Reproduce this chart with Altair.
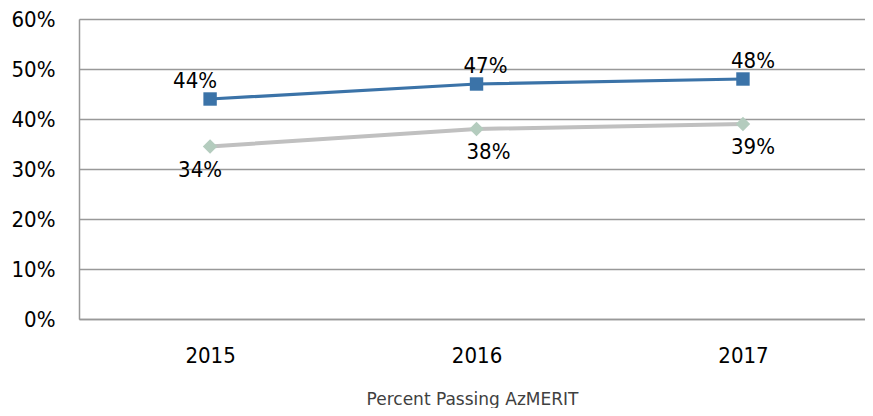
import altair as alt
import pandas as pd

years = [2015, 2016, 2017]
series_a = [44, 47, 48]
series_b = [34.5, 38, 39]
labels_a = ["44%", "47%", "48%"]
labels_b = ["34%", "38%", "39%"]

df = pd.DataFrame({
    "year": years * 2,
    "value": [v / 100 for v in series_a + series_b],
    "label": labels_a + labels_b,
    "series": ["A"] * 3 + ["B"] * 3,
})

FONT = "DejaVu Sans Condensed, sans-serif"
TFONT = "DejaVu Sans"
x = alt.X("year:Q", scale=alt.Scale(domain=[2014.508, 2017.458], nice=False, zero=False),
          axis=alt.Axis(values=years, format="d", grid=False, ticks=False,
                        domain=True, domainColor="#999", domainWidth=1.5,
                        labelFontSize=22, labelFont=FONT, labelColor="#000", labelPadding=26,
                        title="Percent Passing AzMERIT", titleFont=TFONT, titleFontSize=17,
                        titleFontWeight="normal", titleColor="#404040", titlePadding=25))
y = alt.Y("value:Q", scale=alt.Scale(domain=[0, 0.6], nice=False),
          axis=alt.Axis(values=[0, 0.1, 0.2, 0.3, 0.4, 0.5, 0.6], format=".0%", ticks=False,
                        domain=True, domainColor="#999", domainWidth=1.5,
                        gridColor="#999", gridWidth=1.5,
                        labelFontSize=22, labelFont=FONT, labelColor="#000", labelPadding=24,
                        title=None))

base = alt.Chart(df)
a = base.transform_filter("datum.series == 'A'")
b = base.transform_filter("datum.series == 'B'")

line_b = b.mark_line(color="#C0C0C0", strokeWidth=4).encode(x=x, y=y)
pts_b = b.mark_point(shape="diamond", filled=True, color="#B4CCBE", size=210, opacity=1).encode(x=x, y=y)
line_a = a.mark_line(color="#3B73A8", strokeWidth=3.2).encode(x=x, y=y)
pts_a = a.mark_point(shape="square", filled=True, color="#3B73A8", size=180, opacity=1).encode(x=x, y=y)

layers = [line_b, pts_b, line_a, pts_a]
dx_a = [-15, 9, 10]
dx_b = [-10, 12, 10]
for yr, d in zip(years, dx_a):
    layers.append(a.transform_filter(f"datum.year == {yr}").mark_text(
        dx=d, dy=-18, fontSize=22, font=FONT, color="#000").encode(x=x, y=y, text="label:N"))
for yr, d in zip(years, dx_b):
    layers.append(b.transform_filter(f"datum.year == {yr}").mark_text(
        dx=d, dy=23, fontSize=22, font=FONT, color="#000").encode(x=x, y=y, text="label:N"))

chart = alt.layer(*layers).properties(
    width=786, height=300,
    autosize=alt.AutoSizeParams(type="none"),
    padding={"left": 71, "top": 11, "right": 0, "bottom": 89},
).configure_view(stroke=None).configure(background="white")

chart.save("out.html", embed_options={"renderer": "svg", "actions": False})
